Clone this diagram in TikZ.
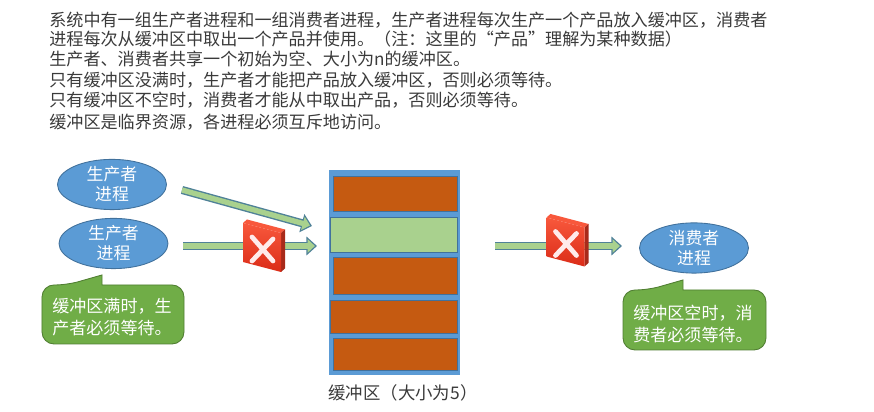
\documentclass[tikz,border=0pt]{standalone}
\usepackage{fontspec}
\setmainfont{Noto Sans CJK SC}
\usetikzlibrary{arrows.meta,shapes.geometric}
\definecolor{bodytext}{HTML}{3A3A3A}
\definecolor{procblue}{HTML}{5B9BD5}
\definecolor{edgeblue}{HTML}{41719C}
\definecolor{fullcell}{HTML}{C55A11}
\definecolor{freecell}{HTML}{A9D18E}
\definecolor{notegreen}{HTML}{70AD47}
\definecolor{noteedge}{HTML}{507E32}
\definecolor{arrowedge}{HTML}{4F8198}
\definecolor{iconlight}{HTML}{F8583C}
\definecolor{icondark}{HTML}{DB2C18}
\definecolor{iconside}{HTML}{A82A1A}
\tikzset{
    bodyline/.style={anchor=west,inner sep=0pt,text=bodytext,font=\fontsize{9.73}{12}\selectfont},
    proc/.style={ellipse,draw=edgeblue,fill=procblue,line width=.5pt,inner sep=0pt,minimum width=2.18cm,minimum height=.98cm,
        text=white,align=center,font=\fontsize{9.6}{11.4}\selectfont},
    bufferbox/.style={rectangle,draw=procblue,fill=procblue,line width=.5pt,inner sep=0pt},
    cell/.style={rectangle,draw=edgeblue,line width=.4pt,inner sep=0pt},
    notebox/.style={draw=noteedge,fill=notegreen,line width=.5pt},
    notetext/.style={inner sep=0pt,text=white,align=left,font=\fontsize{9.7}{12.2}\selectfont},
    blockarrow/.style={color=freecell,line width=3pt,shorten >=1.2pt,-{Triangle[length=4.2pt,width=7.6pt]},
        preaction={draw=arrowedge,line width=4.6pt,shorten >=0pt,-{Triangle[length=6pt,width=10.4pt]}}},
    crossicon/.pic={
        \fill[iconlight] (-.42,.48) -- (-.34,.55) -- (.42,.35) -- (.34,.28) -- cycle;
        \fill[iconside] (.34,.28) -- (.42,.35) -- (.42,-.43) -- (.34,-.50) -- cycle;
        \shade[top color=iconlight,bottom color=icondark] (-.42,.48) -- (.34,.28) -- (.34,-.50) -- (-.42,-.30) -- cycle;
        \draw[white!92!red,line width=2.7pt,line cap=round] (-.24,.20) -- (.18,-.28) (-.24,-.28) -- (.18,.16);
    }
}
\begin{document}
\begin{tikzpicture}
    \useasboundingbox (0,0) rectangle (17.48,8.24);

    \node[bodyline] (line1) at (.98,7.84) {系统中有一组生产者进程和一组消费者进程，生产者进程每次生产一个产品放入缓冲区，消费者};
    \node[bodyline] (line2) at (.98,7.46) {进程每次从缓冲区中取出一个产品并使用。（注：这里的“产品”理解为某种数据）};
    \node[bodyline] (line3) at (.98,7.06) {生产者、消费者共享一个初始为空、大小为n的缓冲区。};
    \node[bodyline] (line4) at (.98,6.64) {只有缓冲区没满时，生产者才能把产品放入缓冲区，否则必须等待。};
    \node[bodyline] (line5) at (.98,6.24) {只有缓冲区不空时，消费者才能从中取出产品，否则必须等待。};
    \node[bodyline] (line6) at (.98,5.80) {缓冲区是临界资源，各进程必须互斥地访问。};

    \node[proc] (P1) at (2.24,4.55) {生产者\\进程};
    \node[proc] (P2) at (2.27,3.37) {生产者\\进程};
    \node[proc] (C1) at (13.88,3.28) {消费者\\进程};

    \node[bufferbox,minimum width=2.6cm,minimum height=4.08cm] (buffer) at (7.88,2.80) {};
    \node[cell,fill=fullcell,minimum width=2.48cm,minimum height=.70cm] (B1) at (7.90,4.37) {};
    \node[cell,fill=freecell,minimum width=2.54cm,minimum height=.70cm] (B2) at (7.87,3.55) {};
    \node[cell,fill=fullcell,minimum width=2.48cm,minimum height=.74cm] (B3) at (7.90,2.73) {};
    \node[cell,fill=fullcell,minimum width=2.54cm,minimum height=.66cm] (B4) at (7.87,1.91) {};
    \node[cell,fill=fullcell,minimum width=2.48cm,minimum height=.64cm] (B5) at (7.90,1.16) {};
    \node[inner sep=0pt,text=bodytext,font=\fontsize{9.9}{12}\selectfont] (bufname) at (8.06,.38) {缓冲区（大小为5）};

    \coordinate (A1s) at (3.64,4.44); \coordinate (A1e) at (6.24,3.72);
    \coordinate (A2s) at (3.66,3.32); \coordinate (A2e) at (6.34,3.32);
    \coordinate (A3s) at (9.90,3.32); \coordinate (A3e) at (12.44,3.32);

    \draw[blockarrow] (A1s) to (A1e);
    \draw[blockarrow] (A2s) to (A2e);
    \draw[blockarrow] (A3s) to (A3e);

    \pic (stop1) at (5.28,3.30) {crossicon};
    \pic (stop2) at (11.35,3.41) {crossicon};

    \draw[notebox,rounded corners=.24cm] (.84,1.36) -- (.84,2.54) -- (1.34,2.54) [sharp corners] -- (2.04,2.74) -- (2.04,2.54) [rounded corners=.24cm] -- (3.68,2.54) -- (3.68,1.36) -- cycle;
    \node[notetext] (note1) at (2.24,1.90) {缓冲区满时，生\\产者必须等待。};

    \draw[notebox,rounded corners=.24cm] (12.46,1.24) -- (12.46,2.44) -- (12.96,2.44) [sharp corners] -- (13.66,2.64) -- (13.66,2.44) [rounded corners=.24cm] -- (15.32,2.44) -- (15.32,1.24) -- cycle;
    \node[notetext] (note2) at (13.86,1.76) {缓冲区空时，消\\费者必须等待。};
\end{tikzpicture}
\end{document}
